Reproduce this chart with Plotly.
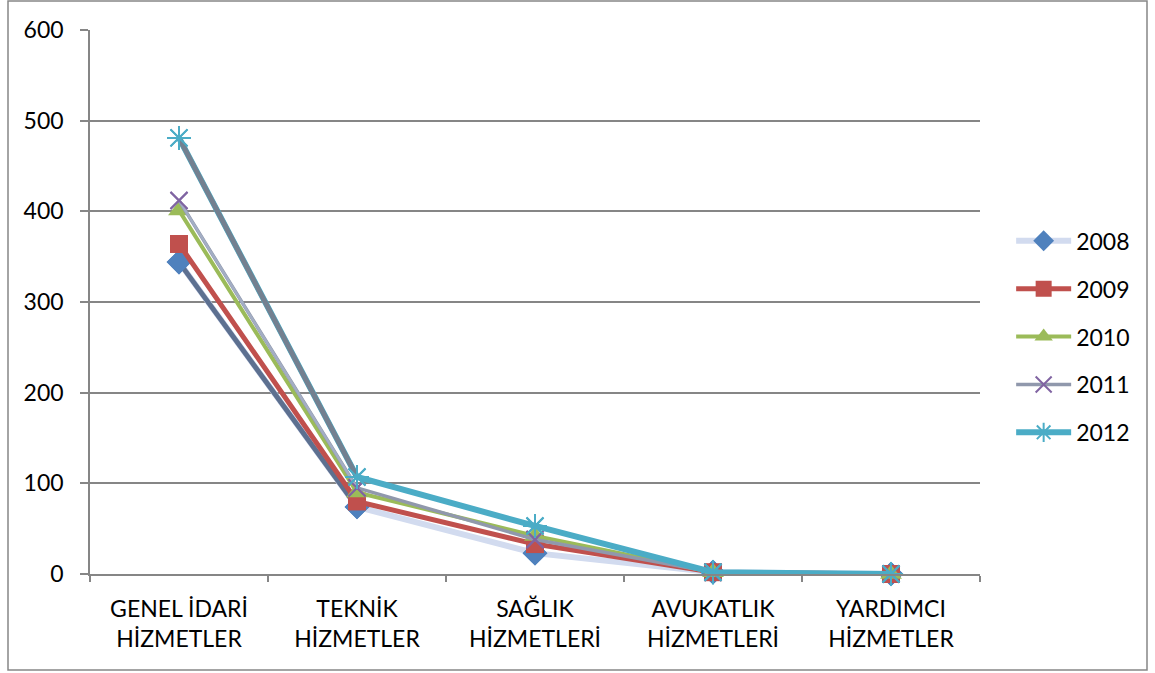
import plotly.graph_objects as go

categories = ["GENEL İDARİ<br>HİZMETLER", "TEKNİK<br>HİZMETLER", "SAĞLIK<br>HİZMETLERİ",
              "AVUKATLIK<br>HİZMETLERİ", "YARDIMCI<br>HİZMETLER"]
years = ["2008", "2009", "2010", "2011", "2012"]
v2008 = [344, 74, 23, 2, 0]
v2009 = [364, 80, 33, 2, 0]
v2010 = [401, 90, 42, 2, 0]
v2011 = [412, 95, 38, 2, 0]
v2012 = [481, 107, 53, 2, 0]
y_ticks = [0, 100, 200, 300, 400, 500, 600]

series = [v2008, v2009, v2010, v2011, v2012]
line_colors = ["#d2dbef", "#c0504d", "#9bbb59", "#9098ac", "#4bacc6"]
first_seg_colors = ["#5d7090", None, None, "#a3aec4", "#738090"]
line_widths = [6, 5, 4, 3.5, 6]
marker_syms = ["diamond", "square", "triangle-up", "x-thin", "asterisk"]
marker_colors = ["#4f81bd", "#c0504d", "#9bbb59", "#8064a2", "#4bacc6"]
marker_sizes = [19, 18, 19, 17, 20]


def marker_style(i):
    return dict(symbol=marker_syms[i], color=marker_colors[i], size=marker_sizes[i],
                line=dict(color=marker_colors[i],
                          width=2 if marker_syms[i] in ("x-thin", "asterisk") else 0))


fig = go.Figure()
for i, (yr, vals) in enumerate(zip(years, series)):
    fig.add_trace(go.Scatter(
        x=categories, y=vals, name=yr, mode="lines+markers",
        legendgroup=yr, cliponaxis=False,
        line=dict(color=line_colors[i], width=line_widths[i]),
        marker=marker_style(i),
    ))
    if first_seg_colors[i]:
        fig.add_trace(go.Scatter(
            x=categories[:2], y=vals[:2], mode="lines", showlegend=False, legendgroup=yr,
            hoverinfo="skip", cliponaxis=False,
            line=dict(color=first_seg_colors[i], width=line_widths[i] - 1),
        ))
        fig.add_trace(go.Scatter(
            x=categories, y=vals, mode="markers", showlegend=False, legendgroup=yr,
            hoverinfo="skip", cliponaxis=False, marker=marker_style(i),
        ))

font_family = "Lato, Open Sans, sans-serif"
fig.update_layout(
    width=1155, height=673,
    margin=dict(l=90, r=175, t=30, b=99),
    paper_bgcolor="white", plot_bgcolor="white",
    font=dict(family=font_family, size=23, color="black"),
    xaxis=dict(type="category", showgrid=False, showline=True, linecolor="#868686", linewidth=1.5,
               ticks="outside", tickson="boundaries", ticklen=6, tickcolor="#868686", tickwidth=1.5,
               range=[-0.5, 4.5], tickfont=dict(size=23), ticklabelstandoff=14),
    yaxis=dict(range=[0, 600], tickvals=y_ticks, showgrid=True, gridcolor="#868686", gridwidth=1.5,
               showline=True, linecolor="#868686", linewidth=1.5, ticks="outside", ticklen=8,
               tickcolor="#868686", tickwidth=1.5, zeroline=False, tickfont=dict(size=23),
               ticklabelstandoff=12),
    legend=dict(x=1.035, y=0.436, xanchor="left", yanchor="middle", tracegroupgap=15,
                itemwidth=55, font=dict(size=23), bgcolor="rgba(0,0,0,0)"),
    showlegend=True,
)
fig.add_shape(type="rect", xref="paper", yref="paper",
              x0=-82/890, x1=(1147 - 90)/890, y0=-96/544, y1=(574 - 1)/544,
              line=dict(color="#868686", width=1.5))
fig.write_html("out.html", config={"displayModeBar": False},
               post_script="document.body.style.margin='0';document.body.style.overflow='hidden';")
